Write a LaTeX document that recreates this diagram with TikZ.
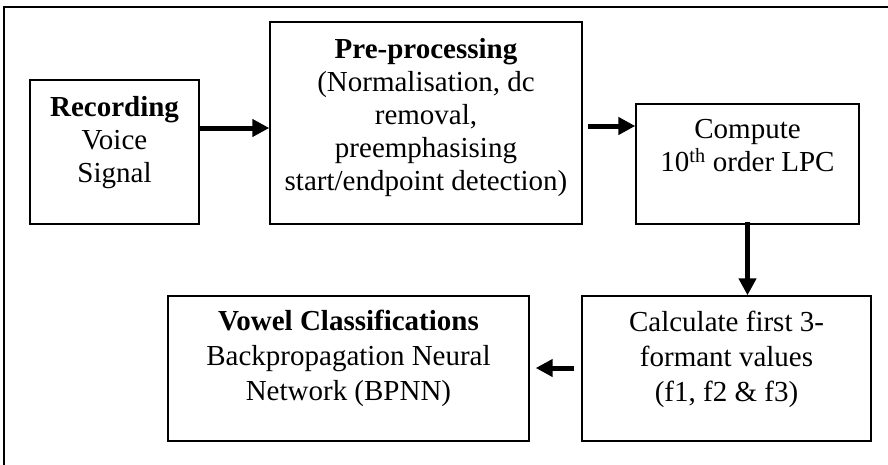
\documentclass[tikz,border=0pt]{standalone}
\usepackage{fontspec}
\setmainfont{Liberation Serif}
\usetikzlibrary{arrows.meta}
\begin{document}
\begin{tikzpicture}[x=1pt,y=-1pt,
  box/.style={draw,line width=1.4pt,inner sep=0pt,minimum width=#1},
  txt/.style={anchor=north,align=center,inner sep=0pt,font=\fontsize{29}{33}\selectfont},
  txtb/.style={txt,font=\fontsize{29}{35}\selectfont},
  arr/.style={line width=5pt,-{Triangle[length=17pt,width=17pt]}}]
\useasboundingbox (0,0) rectangle (888,464);
\draw[line width=2pt] (4,470) -- (4,7) -- (895,7);
% boxes
\node[box=169pt,minimum height=144pt] (rec) at (114.5,152) {};
\node[box=312pt,minimum height=202pt] (pre) at (426,123) {};
\node[box=223pt,minimum height=120pt] (lpc) at (747.5,164) {};
\node[box=289pt,minimum height=145pt] (calc) at (726.5,368.5) {};
\node[box=361pt,minimum height=145pt] (vow) at (348.5,368.5) {};
% texts
\node[txt] (trec) at ([yshift=-17pt]rec.north) {\textbf{Recording}\\Voice\\Signal};
\node[txt] (tpre) at ([yshift=-17pt]pre.north) {\textbf{Pre-processing}\\(Normalisation, dc\\removal,\\preemphasising\\start/endpoint detection)};
\node[txt] (tlpc) at ([yshift=-16pt]lpc.north) {Compute\\10\textsuperscript{th} order LPC};
\node[txtb] (tcalc) at ([yshift=-16pt]calc.north) {Calculate first 3-\\formant values\\(f1, f2 \& f3)};
\node[txtb] (tvow) at ([yshift=-15pt]vow.north) {\textbf{Vowel Classifications}\\Backpropagation Neural\\Network (BPNN)};
% arrows
\coordinate (a1) at (0,128);
\coordinate (a2) at (0,126);
\coordinate (a4) at (0,368);
\draw[arr] (rec.east |- a1) -- (pre.west |- a1);
\draw[arr] ([xshift=5pt]pre.east |- a2) -- (lpc.west |- a2);
\draw[arr] ([yshift=3pt]lpc.south) -- (calc.north -| lpc.south);
\draw[arr] ([xshift=-7pt]calc.west |- a4) -- ([xshift=6pt]vow.east |- a4);
\end{tikzpicture}
\end{document}
